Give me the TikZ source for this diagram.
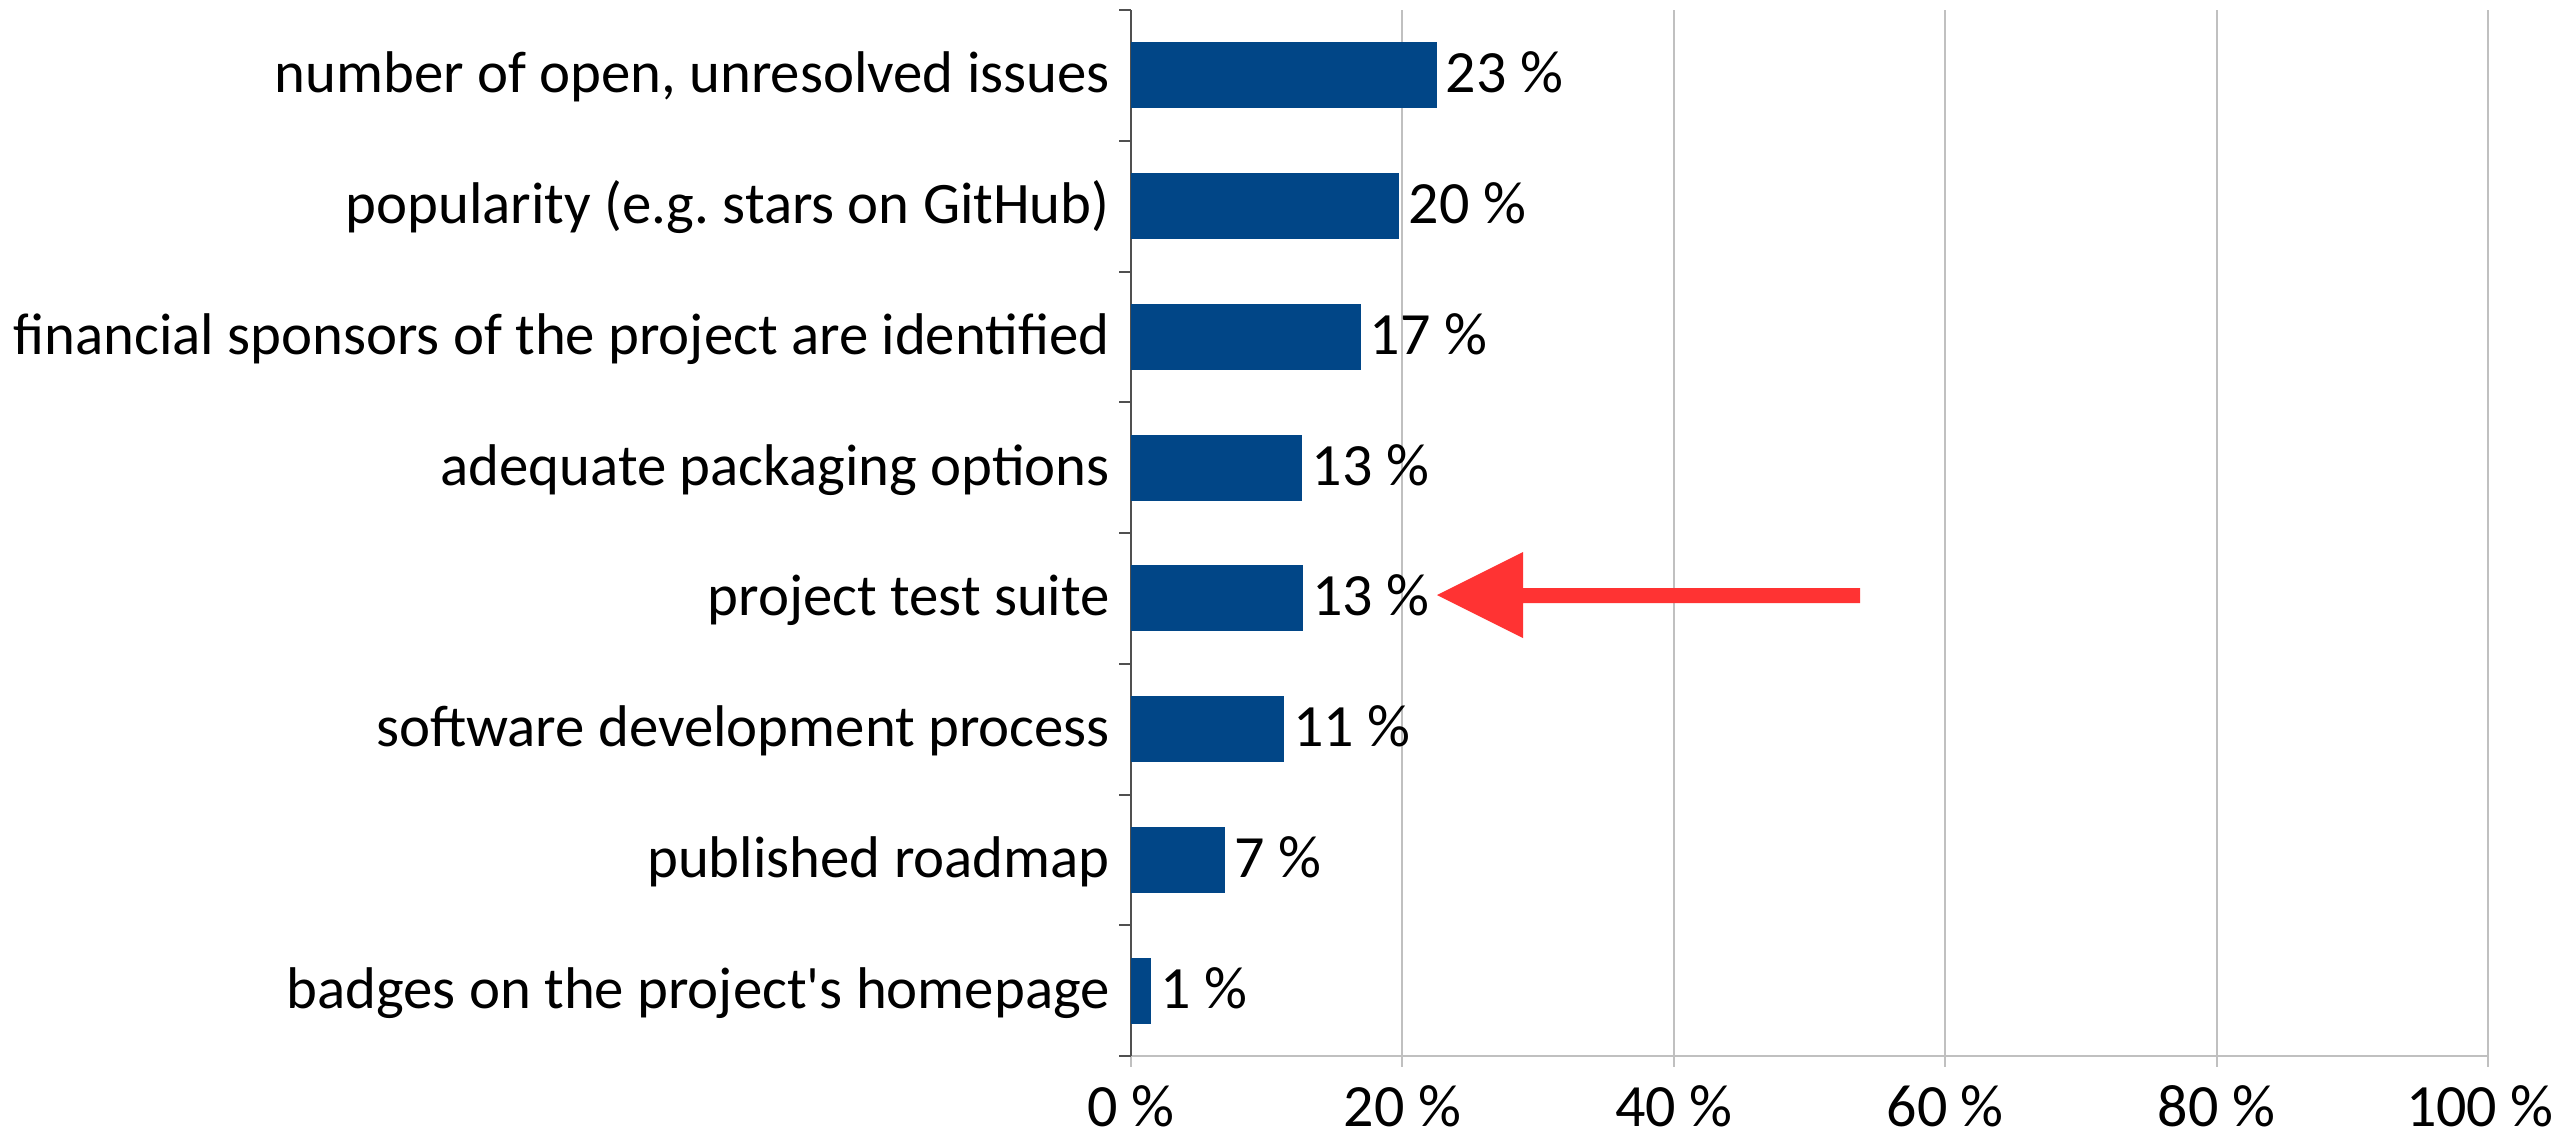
\documentclass[tikz,border=0pt]{standalone}
\usepackage{fontspec}
\newfontfamily\labfont{Carlito}
\frenchspacing
\definecolor{barblue}{RGB}{1,70,135}
\definecolor{arrowred}{RGB}{255,51,51}
\definecolor{gridgray}{RGB}{192,192,192}
\definecolor{axisgray}{RGB}{80,80,80}
\tikzset{
  barbox/.style={fill=barblue, draw=none, inner sep=0pt, minimum height=66pt, anchor=west},
  catlabel/.style={anchor=base east, inner sep=0pt, font=\labfont\fontsize{58.8}{60}\selectfont},
  vallabel/.style={anchor=base west, inner sep=0pt, font=\labfont\fontsize{60}{60}\selectfont},
  ticklabel/.style={anchor=base, inner sep=0pt, font=\labfont\fontsize{60}{60}\selectfont},
  gridline/.style={draw=gridgray, line width=2pt},
  axisline/.style={draw=axisgray, line width=2pt}
}
\begin{document}
\begin{tikzpicture}[x=1pt,y=-1pt]
\useasboundingbox (0,0) rectangle (2561,1136);
\fill[white] (0,0) rectangle (2561,1136);
% grid
\foreach \g [count=\k from 0] in {0,20,40,60,80,100}{
  \coordinate (g\k) at ({1131+\g*13.57},1067);
  \draw[gridline] ({1131+\g*13.57},10) -- (g\k);
}
\foreach \g [count=\k from 0] in {0,20,40,60,80}{
  \node[ticklabel] (t\k) at ({1131+\g*13.57},1126) {\g\ \%};
}
\node[ticklabel, anchor=base east] (t5) at (2554,1126) {100\ \%};
\draw[gridline] (1131,1056) -- ({1131+100*13.57},1056);
% y axis and ticks
\draw[axisline] (1131,10) -- (1131,1056);
\foreach \i in {0,...,8}{
  \draw[axisline] (1119,{10+130.75*\i}) -- (1131,{10+130.75*\i});
}
% bars
\foreach \v/\lab/\txt [count=\i] in {
  22.5/23/{number of open, unresolved issues},
  19.75/20/{popularity (e.g. stars on GitHub)},
  16.9/17/{financial sponsors of the project are identified},
  12.6/13/{adequate packaging options},
  12.65/13/{project test suite},
  11.25/11/{software development process},
  6.9/7/{published roadmap},
  1.47/1/{badges on the project\char39 s homepage}}{
  \node[barbox, minimum width={\v*13.57pt}] (b\i) at (1131,{10+130.75*(\i-0.5)}) {};
  \node[vallabel] (v\i) at ([xshift=9pt,yshift=-17.5pt]b\i.east) {\lab\ \%};
  \node[catlabel] (c\i) at (1110,{10+130.75*(\i-0.5)+17.5}) {\txt};
}
% red arrow
\fill[arrowred] (1437,595) -- (1523,552) -- (1523,588) -- (1860,588) -- (1860,603) -- (1523,603) -- (1523,638) -- cycle;
\end{tikzpicture}
\end{document}
